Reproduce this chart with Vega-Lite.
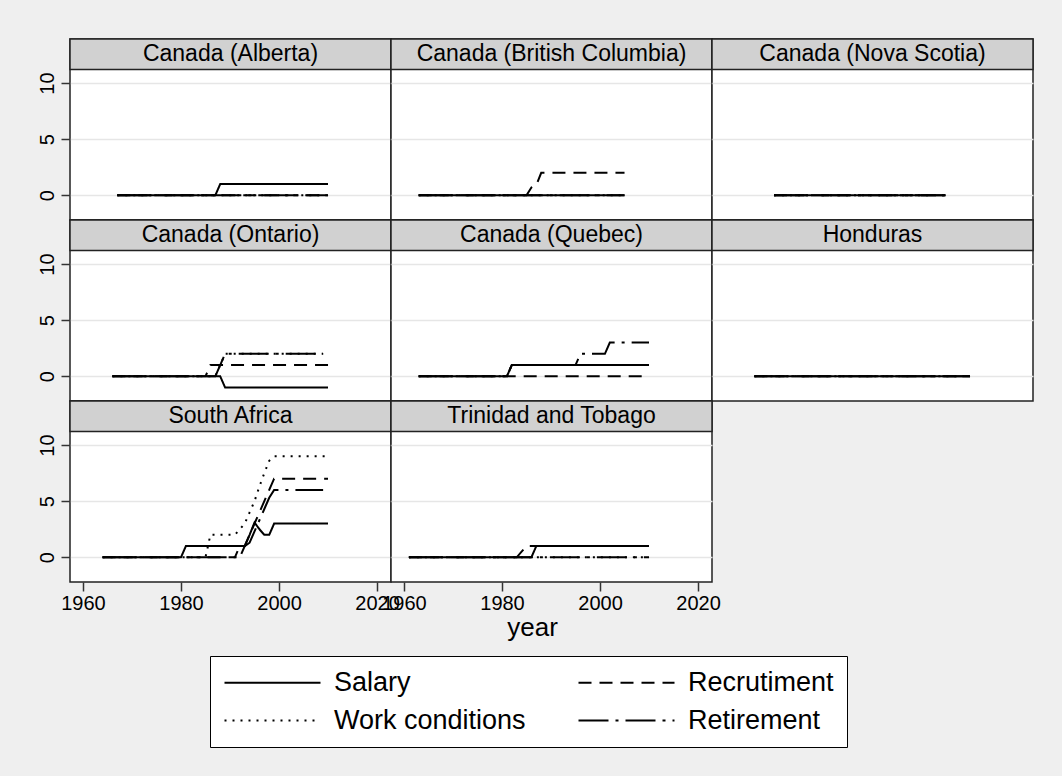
{
  "$schema": "https://vega.github.io/schema/vega-lite/v6.json",
  "background": "#efefef",
  "padding": {"left": 36, "top": 37, "right": 29, "bottom": 30},
  "datasets": {
    "panels": [
      {"c": "Canada (Alberta)"}, {"c": "Canada (British Columbia)"}, {"c": "Canada (Nova Scotia)"},
      {"c": "Canada (Ontario)"}, {"c": "Canada (Quebec)"}, {"c": "Honduras"},
      {"c": "South Africa"}, {"c": "Trinidad and Tobago"}
    ],
    "lines": [
      {"c": "Canada (Alberta)", "s": "Salary", "year": 1967, "v": 0},
      {"c": "Canada (Alberta)", "s": "Salary", "year": 1987, "v": 0},
      {"c": "Canada (Alberta)", "s": "Salary", "year": 1988, "v": 1},
      {"c": "Canada (Alberta)", "s": "Salary", "year": 2010, "v": 1},
      {"c": "Canada (Alberta)", "s": "Recrutiment", "year": 1967, "v": 0},
      {"c": "Canada (Alberta)", "s": "Recrutiment", "year": 2010, "v": 0},
      {"c": "Canada (Alberta)", "s": "Work conditions", "year": 1967, "v": 0},
      {"c": "Canada (Alberta)", "s": "Work conditions", "year": 2010, "v": 0},
      {"c": "Canada (Alberta)", "s": "Retirement", "year": 1967, "v": 0},
      {"c": "Canada (Alberta)", "s": "Retirement", "year": 2010, "v": 0},

      {"c": "Canada (British Columbia)", "s": "Salary", "year": 1963, "v": 0},
      {"c": "Canada (British Columbia)", "s": "Salary", "year": 2005, "v": 0},
      {"c": "Canada (British Columbia)", "s": "Recrutiment", "year": 1963, "v": 0},
      {"c": "Canada (British Columbia)", "s": "Recrutiment", "year": 1985, "v": 0},
      {"c": "Canada (British Columbia)", "s": "Recrutiment", "year": 1986, "v": 0.7},
      {"c": "Canada (British Columbia)", "s": "Recrutiment", "year": 1987, "v": 0.9},
      {"c": "Canada (British Columbia)", "s": "Recrutiment", "year": 1988, "v": 2},
      {"c": "Canada (British Columbia)", "s": "Recrutiment", "year": 2005, "v": 2},
      {"c": "Canada (British Columbia)", "s": "Work conditions", "year": 1963, "v": 0},
      {"c": "Canada (British Columbia)", "s": "Work conditions", "year": 2005, "v": 0},
      {"c": "Canada (British Columbia)", "s": "Retirement", "year": 1963, "v": 0},
      {"c": "Canada (British Columbia)", "s": "Retirement", "year": 2005, "v": 0},

      {"c": "Canada (Nova Scotia)", "s": "Salary", "year": 1970, "v": 0},
      {"c": "Canada (Nova Scotia)", "s": "Salary", "year": 2005, "v": 0},
      {"c": "Canada (Nova Scotia)", "s": "Recrutiment", "year": 1970, "v": 0},
      {"c": "Canada (Nova Scotia)", "s": "Recrutiment", "year": 2005, "v": 0},
      {"c": "Canada (Nova Scotia)", "s": "Work conditions", "year": 1970, "v": 0},
      {"c": "Canada (Nova Scotia)", "s": "Work conditions", "year": 2005, "v": 0},
      {"c": "Canada (Nova Scotia)", "s": "Retirement", "year": 1970, "v": 0},
      {"c": "Canada (Nova Scotia)", "s": "Retirement", "year": 2005, "v": 0},

      {"c": "Canada (Ontario)", "s": "Salary", "year": 1966, "v": 0},
      {"c": "Canada (Ontario)", "s": "Salary", "year": 1988, "v": 0},
      {"c": "Canada (Ontario)", "s": "Salary", "year": 1989, "v": -1},
      {"c": "Canada (Ontario)", "s": "Salary", "year": 2010, "v": -1},
      {"c": "Canada (Ontario)", "s": "Recrutiment", "year": 1966, "v": 0},
      {"c": "Canada (Ontario)", "s": "Recrutiment", "year": 1985, "v": 0},
      {"c": "Canada (Ontario)", "s": "Recrutiment", "year": 1986, "v": 1},
      {"c": "Canada (Ontario)", "s": "Recrutiment", "year": 2010, "v": 1},
      {"c": "Canada (Ontario)", "s": "Work conditions", "year": 1966, "v": 0},
      {"c": "Canada (Ontario)", "s": "Work conditions", "year": 1987, "v": 0},
      {"c": "Canada (Ontario)", "s": "Work conditions", "year": 1988, "v": 1},
      {"c": "Canada (Ontario)", "s": "Work conditions", "year": 1989, "v": 2},
      {"c": "Canada (Ontario)", "s": "Work conditions", "year": 2009, "v": 2},
      {"c": "Canada (Ontario)", "s": "Retirement", "year": 1966, "v": 0},
      {"c": "Canada (Ontario)", "s": "Retirement", "year": 1987, "v": 0},
      {"c": "Canada (Ontario)", "s": "Retirement", "year": 1988, "v": 1},
      {"c": "Canada (Ontario)", "s": "Retirement", "year": 1989, "v": 2},
      {"c": "Canada (Ontario)", "s": "Retirement", "year": 2009, "v": 2},

      {"c": "Canada (Quebec)", "s": "Salary", "year": 1963, "v": 0},
      {"c": "Canada (Quebec)", "s": "Salary", "year": 1981, "v": 0},
      {"c": "Canada (Quebec)", "s": "Salary", "year": 1982, "v": 1},
      {"c": "Canada (Quebec)", "s": "Salary", "year": 2010, "v": 1},
      {"c": "Canada (Quebec)", "s": "Recrutiment", "year": 1963, "v": 0},
      {"c": "Canada (Quebec)", "s": "Recrutiment", "year": 2010, "v": 0},
      {"c": "Canada (Quebec)", "s": "Work conditions", "year": 1963, "v": 0},
      {"c": "Canada (Quebec)", "s": "Work conditions", "year": 1981, "v": 0},
      {"c": "Canada (Quebec)", "s": "Work conditions", "year": 1982, "v": 1},
      {"c": "Canada (Quebec)", "s": "Work conditions", "year": 2010, "v": 1},
      {"c": "Canada (Quebec)", "s": "Retirement", "year": 1963, "v": 0},
      {"c": "Canada (Quebec)", "s": "Retirement", "year": 1981, "v": 0},
      {"c": "Canada (Quebec)", "s": "Retirement", "year": 1982, "v": 1},
      {"c": "Canada (Quebec)", "s": "Retirement", "year": 1995, "v": 1},
      {"c": "Canada (Quebec)", "s": "Retirement", "year": 1996, "v": 2},
      {"c": "Canada (Quebec)", "s": "Retirement", "year": 2001, "v": 2},
      {"c": "Canada (Quebec)", "s": "Retirement", "year": 2002, "v": 3},
      {"c": "Canada (Quebec)", "s": "Retirement", "year": 2010, "v": 3},

      {"c": "Honduras", "s": "Salary", "year": 1966, "v": 0},
      {"c": "Honduras", "s": "Salary", "year": 2010, "v": 0},
      {"c": "Honduras", "s": "Recrutiment", "year": 1966, "v": 0},
      {"c": "Honduras", "s": "Recrutiment", "year": 2010, "v": 0},
      {"c": "Honduras", "s": "Work conditions", "year": 1966, "v": 0},
      {"c": "Honduras", "s": "Work conditions", "year": 2010, "v": 0},
      {"c": "Honduras", "s": "Retirement", "year": 1966, "v": 0},
      {"c": "Honduras", "s": "Retirement", "year": 2010, "v": 0},

      {"c": "South Africa", "s": "Salary", "year": 1964, "v": 0},
      {"c": "South Africa", "s": "Salary", "year": 1980, "v": 0},
      {"c": "South Africa", "s": "Salary", "year": 1981, "v": 1},
      {"c": "South Africa", "s": "Salary", "year": 1993, "v": 1},
      {"c": "South Africa", "s": "Salary", "year": 1994, "v": 2},
      {"c": "South Africa", "s": "Salary", "year": 1995, "v": 3.1},
      {"c": "South Africa", "s": "Salary", "year": 1996, "v": 2.5},
      {"c": "South Africa", "s": "Salary", "year": 1997, "v": 2},
      {"c": "South Africa", "s": "Salary", "year": 1998, "v": 2},
      {"c": "South Africa", "s": "Salary", "year": 1999, "v": 3},
      {"c": "South Africa", "s": "Salary", "year": 2010, "v": 3},
      {"c": "South Africa", "s": "Recrutiment", "year": 1964, "v": 0},
      {"c": "South Africa", "s": "Recrutiment", "year": 1991, "v": 0},
      {"c": "South Africa", "s": "Recrutiment", "year": 1992, "v": 1},
      {"c": "South Africa", "s": "Recrutiment", "year": 1993, "v": 1},
      {"c": "South Africa", "s": "Recrutiment", "year": 1994, "v": 2},
      {"c": "South Africa", "s": "Recrutiment", "year": 1995, "v": 3},
      {"c": "South Africa", "s": "Recrutiment", "year": 1996, "v": 4},
      {"c": "South Africa", "s": "Recrutiment", "year": 1997, "v": 5},
      {"c": "South Africa", "s": "Recrutiment", "year": 1998, "v": 6},
      {"c": "South Africa", "s": "Recrutiment", "year": 1999, "v": 7},
      {"c": "South Africa", "s": "Recrutiment", "year": 2010, "v": 7},
      {"c": "South Africa", "s": "Work conditions", "year": 1964, "v": 0},
      {"c": "South Africa", "s": "Work conditions", "year": 1985, "v": 0},
      {"c": "South Africa", "s": "Work conditions", "year": 1986, "v": 2},
      {"c": "South Africa", "s": "Work conditions", "year": 1991, "v": 2},
      {"c": "South Africa", "s": "Work conditions", "year": 1992, "v": 2.5},
      {"c": "South Africa", "s": "Work conditions", "year": 1993, "v": 3},
      {"c": "South Africa", "s": "Work conditions", "year": 1994, "v": 4},
      {"c": "South Africa", "s": "Work conditions", "year": 1995, "v": 5},
      {"c": "South Africa", "s": "Work conditions", "year": 1996, "v": 6.3},
      {"c": "South Africa", "s": "Work conditions", "year": 1997, "v": 7.5},
      {"c": "South Africa", "s": "Work conditions", "year": 1998, "v": 8.6},
      {"c": "South Africa", "s": "Work conditions", "year": 1999, "v": 9},
      {"c": "South Africa", "s": "Work conditions", "year": 2010, "v": 9},
      {"c": "South Africa", "s": "Retirement", "year": 1964, "v": 0},
      {"c": "South Africa", "s": "Retirement", "year": 1992, "v": 0},
      {"c": "South Africa", "s": "Retirement", "year": 1993, "v": 1},
      {"c": "South Africa", "s": "Retirement", "year": 1994, "v": 1.3},
      {"c": "South Africa", "s": "Retirement", "year": 1995, "v": 2.3},
      {"c": "South Africa", "s": "Retirement", "year": 1996, "v": 3.3},
      {"c": "South Africa", "s": "Retirement", "year": 1997, "v": 4.3},
      {"c": "South Africa", "s": "Retirement", "year": 1998, "v": 5.3},
      {"c": "South Africa", "s": "Retirement", "year": 1999, "v": 6},
      {"c": "South Africa", "s": "Retirement", "year": 2009, "v": 6},

      {"c": "Trinidad and Tobago", "s": "Salary", "year": 1961, "v": 0},
      {"c": "Trinidad and Tobago", "s": "Salary", "year": 1986, "v": 0},
      {"c": "Trinidad and Tobago", "s": "Salary", "year": 1987, "v": 1},
      {"c": "Trinidad and Tobago", "s": "Salary", "year": 2010, "v": 1},
      {"c": "Trinidad and Tobago", "s": "Recrutiment", "year": 1961, "v": 0},
      {"c": "Trinidad and Tobago", "s": "Recrutiment", "year": 1983, "v": 0},
      {"c": "Trinidad and Tobago", "s": "Recrutiment", "year": 1984, "v": 0.5},
      {"c": "Trinidad and Tobago", "s": "Recrutiment", "year": 1985, "v": 1},
      {"c": "Trinidad and Tobago", "s": "Recrutiment", "year": 2010, "v": 1},
      {"c": "Trinidad and Tobago", "s": "Work conditions", "year": 1961, "v": 0},
      {"c": "Trinidad and Tobago", "s": "Work conditions", "year": 2010, "v": 0},
      {"c": "Trinidad and Tobago", "s": "Retirement", "year": 1961, "v": 0},
      {"c": "Trinidad and Tobago", "s": "Retirement", "year": 2010, "v": 0}
    ]
  },
  "columns": 3,
  "spacing": 0,
  "bounds": "flush",
  "concat": [
    {
      "width": 321, "height": 181,
      "layer": [
        {"data": {"name": "panels"}, "transform": [{"filter": {"field": "c", "equal": "Canada (Alberta)"}}],
         "mark": {"type": "rect", "fill": "#d1d1d1", "stroke": "#222", "strokeWidth": 1.5},
         "encoding": {"y": {"datum": 11.2}, "y2": {"datum": 13.92}}},
        {"data": {"name": "panels"}, "transform": [{"filter": {"field": "c", "equal": "Canada (Alberta)"}}],
         "mark": {"type": "text", "fontSize": 23, "font": "Liberation Sans", "color": "#000", "baseline": "middle"},
         "encoding": {"text": {"field": "c"}, "y": {"datum": 12.56}}},
        {"data": {"name": "lines"}, "transform": [{"filter": {"field": "c", "equal": "Canada (Alberta)"}}],
         "mark": {"type": "line", "strokeWidth": 2, "color": "#000"},
         "encoding": {
           "x": {"field": "year", "type": "quantitative", "scale": {"domain": [1957.35, 2022.85], "nice": false, "zero": false}, "axis": null},
           "y": {"field": "v", "type": "quantitative", "scale": {"domain": [-2.2, 13.92], "nice": false, "zero": false}, "axis": {"values": [0, 5, 10], "title": null}},
           "strokeDash": {"field": "s", "type": "nominal", "title": null,
             "scale": {"domain": ["Salary", "Recrutiment", "Work conditions", "Retirement"], "range": [[1, 0], [13, 8], [2, 6], [30, 7, 3, 7]]},
             "legend": {"orient": "none", "direction": "horizontal", "legendX": 140, "legendY": 617, "columns": 2, "symbolType": "M-1,0H7", "symbolSize": 576, "symbolStrokeWidth": 2, "symbolStrokeColor": "#000", "symbolFillColor": "transparent", "labelFont": "Liberation Sans", "labelFontSize": 27, "labelColor": "#000", "labelOffset": 84, "columnPadding": 48, "rowPadding": 10, "padding": 13, "strokeColor": "#000", "fillColor": "#fff", "labelLimit": 400}}
         }}
      ]
    },
    {
      "width": 321, "height": 181,
      "layer": [
        {"data": {"name": "panels"}, "transform": [{"filter": {"field": "c", "equal": "Canada (British Columbia)"}}],
         "mark": {"type": "rect", "fill": "#d1d1d1", "stroke": "#222", "strokeWidth": 1.5},
         "encoding": {"y": {"datum": 11.2}, "y2": {"datum": 13.92}}},
        {"data": {"name": "panels"}, "transform": [{"filter": {"field": "c", "equal": "Canada (British Columbia)"}}],
         "mark": {"type": "text", "fontSize": 23, "font": "Liberation Sans", "color": "#000", "baseline": "middle"},
         "encoding": {"text": {"field": "c"}, "y": {"datum": 12.56}}},
        {"data": {"name": "lines"}, "transform": [{"filter": {"field": "c", "equal": "Canada (British Columbia)"}}],
         "mark": {"type": "line", "strokeWidth": 2, "color": "#000"},
         "encoding": {
           "x": {"field": "year", "type": "quantitative", "scale": {"domain": [1957.35, 2022.85], "nice": false, "zero": false}, "axis": null},
           "y": {"field": "v", "type": "quantitative", "scale": {"domain": [-2.2, 13.92], "nice": false, "zero": false}, "axis": {"values": [0, 5, 10], "title": null, "labels": false, "ticks": false}},
           "strokeDash": {"field": "s", "type": "nominal", "title": null,
             "scale": {"domain": ["Salary", "Recrutiment", "Work conditions", "Retirement"], "range": [[1, 0], [13, 8], [2, 6], [30, 7, 3, 7]]}}
         }}
      ]
    },
    {
      "width": 321, "height": 181,
      "layer": [
        {"data": {"name": "panels"}, "transform": [{"filter": {"field": "c", "equal": "Canada (Nova Scotia)"}}],
         "mark": {"type": "rect", "fill": "#d1d1d1", "stroke": "#222", "strokeWidth": 1.5},
         "encoding": {"y": {"datum": 11.2}, "y2": {"datum": 13.92}}},
        {"data": {"name": "panels"}, "transform": [{"filter": {"field": "c", "equal": "Canada (Nova Scotia)"}}],
         "mark": {"type": "text", "fontSize": 23, "font": "Liberation Sans", "color": "#000", "baseline": "middle"},
         "encoding": {"text": {"field": "c"}, "y": {"datum": 12.56}}},
        {"data": {"name": "lines"}, "transform": [{"filter": {"field": "c", "equal": "Canada (Nova Scotia)"}}],
         "mark": {"type": "line", "strokeWidth": 2, "color": "#000"},
         "encoding": {
           "x": {"field": "year", "type": "quantitative", "scale": {"domain": [1957.35, 2022.85], "nice": false, "zero": false}, "axis": null},
           "y": {"field": "v", "type": "quantitative", "scale": {"domain": [-2.2, 13.92], "nice": false, "zero": false}, "axis": {"values": [0, 5, 10], "title": null, "labels": false, "ticks": false}},
           "strokeDash": {"field": "s", "type": "nominal", "title": null,
             "scale": {"domain": ["Salary", "Recrutiment", "Work conditions", "Retirement"], "range": [[1, 0], [13, 8], [2, 6], [30, 7, 3, 7]]}}
         }}
      ]
    },
    {
      "width": 321, "height": 181,
      "layer": [
        {"data": {"name": "panels"}, "transform": [{"filter": {"field": "c", "equal": "Canada (Ontario)"}}],
         "mark": {"type": "rect", "fill": "#d1d1d1", "stroke": "#222", "strokeWidth": 1.5},
         "encoding": {"y": {"datum": 11.2}, "y2": {"datum": 13.92}}},
        {"data": {"name": "panels"}, "transform": [{"filter": {"field": "c", "equal": "Canada (Ontario)"}}],
         "mark": {"type": "text", "fontSize": 23, "font": "Liberation Sans", "color": "#000", "baseline": "middle"},
         "encoding": {"text": {"field": "c"}, "y": {"datum": 12.56}}},
        {"data": {"name": "lines"}, "transform": [{"filter": {"field": "c", "equal": "Canada (Ontario)"}}],
         "mark": {"type": "line", "strokeWidth": 2, "color": "#000"},
         "encoding": {
           "x": {"field": "year", "type": "quantitative", "scale": {"domain": [1957.35, 2022.85], "nice": false, "zero": false}, "axis": null},
           "y": {"field": "v", "type": "quantitative", "scale": {"domain": [-2.2, 13.92], "nice": false, "zero": false}, "axis": {"values": [0, 5, 10], "title": null}},
           "strokeDash": {"field": "s", "type": "nominal", "title": null,
             "scale": {"domain": ["Salary", "Recrutiment", "Work conditions", "Retirement"], "range": [[1, 0], [13, 8], [2, 6], [30, 7, 3, 7]]}}
         }}
      ]
    },
    {
      "width": 321, "height": 181,
      "layer": [
        {"data": {"name": "panels"}, "transform": [{"filter": {"field": "c", "equal": "Canada (Quebec)"}}],
         "mark": {"type": "rect", "fill": "#d1d1d1", "stroke": "#222", "strokeWidth": 1.5},
         "encoding": {"y": {"datum": 11.2}, "y2": {"datum": 13.92}}},
        {"data": {"name": "panels"}, "transform": [{"filter": {"field": "c", "equal": "Canada (Quebec)"}}],
         "mark": {"type": "text", "fontSize": 23, "font": "Liberation Sans", "color": "#000", "baseline": "middle"},
         "encoding": {"text": {"field": "c"}, "y": {"datum": 12.56}}},
        {"data": {"name": "lines"}, "transform": [{"filter": {"field": "c", "equal": "Canada (Quebec)"}}],
         "mark": {"type": "line", "strokeWidth": 2, "color": "#000"},
         "encoding": {
           "x": {"field": "year", "type": "quantitative", "scale": {"domain": [1957.35, 2022.85], "nice": false, "zero": false}, "axis": null},
           "y": {"field": "v", "type": "quantitative", "scale": {"domain": [-2.2, 13.92], "nice": false, "zero": false}, "axis": {"values": [0, 5, 10], "title": null, "labels": false, "ticks": false}},
           "strokeDash": {"field": "s", "type": "nominal", "title": null,
             "scale": {"domain": ["Salary", "Recrutiment", "Work conditions", "Retirement"], "range": [[1, 0], [13, 8], [2, 6], [30, 7, 3, 7]]}}
         }}
      ]
    },
    {
      "width": 321, "height": 181,
      "layer": [
        {"data": {"name": "panels"}, "transform": [{"filter": {"field": "c", "equal": "Honduras"}}],
         "mark": {"type": "rect", "fill": "#d1d1d1", "stroke": "#222", "strokeWidth": 1.5},
         "encoding": {"y": {"datum": 11.2}, "y2": {"datum": 13.92}}},
        {"data": {"name": "panels"}, "transform": [{"filter": {"field": "c", "equal": "Honduras"}}],
         "mark": {"type": "text", "fontSize": 23, "font": "Liberation Sans", "color": "#000", "baseline": "middle"},
         "encoding": {"text": {"field": "c"}, "y": {"datum": 12.56}}},
        {"data": {"name": "lines"}, "transform": [{"filter": {"field": "c", "equal": "Honduras"}}],
         "mark": {"type": "line", "strokeWidth": 2, "color": "#000"},
         "encoding": {
           "x": {"field": "year", "type": "quantitative", "scale": {"domain": [1957.35, 2022.85], "nice": false, "zero": false}, "axis": null},
           "y": {"field": "v", "type": "quantitative", "scale": {"domain": [-2.2, 13.92], "nice": false, "zero": false}, "axis": {"values": [0, 5, 10], "title": null, "labels": false, "ticks": false}},
           "strokeDash": {"field": "s", "type": "nominal", "title": null,
             "scale": {"domain": ["Salary", "Recrutiment", "Work conditions", "Retirement"], "range": [[1, 0], [13, 8], [2, 6], [30, 7, 3, 7]]}}
         }}
      ]
    },
    {
      "width": 321, "height": 181,
      "layer": [
        {"data": {"name": "panels"}, "transform": [{"filter": {"field": "c", "equal": "South Africa"}}],
         "mark": {"type": "rect", "fill": "#d1d1d1", "stroke": "#222", "strokeWidth": 1.5},
         "encoding": {"y": {"datum": 11.2}, "y2": {"datum": 13.92}}},
        {"data": {"name": "panels"}, "transform": [{"filter": {"field": "c", "equal": "South Africa"}}],
         "mark": {"type": "text", "fontSize": 23, "font": "Liberation Sans", "color": "#000", "baseline": "middle"},
         "encoding": {"text": {"field": "c"}, "y": {"datum": 12.56}}},
        {"data": {"name": "lines"}, "transform": [{"filter": {"field": "c", "equal": "South Africa"}}],
         "mark": {"type": "line", "strokeWidth": 2, "color": "#000"},
         "encoding": {
           "x": {"field": "year", "type": "quantitative", "scale": {"domain": [1957.35, 2022.85], "nice": false, "zero": false}, "axis": {"values": [1960, 1980, 2000, 2020], "format": "d", "title": null}},
           "y": {"field": "v", "type": "quantitative", "scale": {"domain": [-2.2, 13.92], "nice": false, "zero": false}, "axis": {"values": [0, 5, 10], "title": null}},
           "strokeDash": {"field": "s", "type": "nominal", "title": null,
             "scale": {"domain": ["Salary", "Recrutiment", "Work conditions", "Retirement"], "range": [[1, 0], [13, 8], [2, 6], [30, 7, 3, 7]]}}
         }}
      ]
    },
    {
      "width": 321, "height": 181,
      "layer": [
        {"data": {"name": "panels"}, "transform": [{"filter": {"field": "c", "equal": "Trinidad and Tobago"}}],
         "mark": {"type": "rect", "fill": "#d1d1d1", "stroke": "#222", "strokeWidth": 1.5},
         "encoding": {"y": {"datum": 11.2}, "y2": {"datum": 13.92}}},
        {"data": {"name": "panels"}, "transform": [{"filter": {"field": "c", "equal": "Trinidad and Tobago"}}],
         "mark": {"type": "text", "fontSize": 23, "font": "Liberation Sans", "color": "#000", "baseline": "middle"},
         "encoding": {"text": {"field": "c"}, "y": {"datum": 12.56}}},
        {"data": {"name": "lines"}, "transform": [{"filter": {"field": "c", "equal": "Trinidad and Tobago"}}],
         "mark": {"type": "line", "strokeWidth": 2, "color": "#000"},
         "encoding": {
           "x": {"field": "year", "type": "quantitative", "scale": {"domain": [1957.35, 2022.85], "nice": false, "zero": false}, "axis": {"values": [1960, 1980, 2000, 2020], "format": "d", "title": "year", "titleX": 141, "titleY": 53, "titleAlign": "center", "titleBaseline": "alphabetic"}},
           "y": {"field": "v", "type": "quantitative", "scale": {"domain": [-2.2, 13.92], "nice": false, "zero": false}, "axis": {"values": [0, 5, 10], "title": null, "labels": false, "ticks": false}},
           "strokeDash": {"field": "s", "type": "nominal", "title": null,
             "scale": {"domain": ["Salary", "Recrutiment", "Work conditions", "Retirement"], "range": [[1, 0], [13, 8], [2, 6], [30, 7, 3, 7]]}}
         }}
      ]
    }
  ],
  "config": {
    "font": "Liberation Sans",
    "view": {"fill": "#ffffff", "stroke": "#222", "strokeWidth": 1.5},
    "axis": {"labelFont": "Liberation Sans", "labelFontSize": 20, "labelColor": "#000", "tickColor": "#333", "tickWidth": 1.5, "tickSize": 9, "domain": false, "gridColor": "#e6e6e6", "gridWidth": 1.5, "labelFlush": false, "labelOverlap": false, "titleFont": "Liberation Sans", "titleFontSize": 26, "titleFontWeight": "normal", "titleColor": "#000"},
    "axisX": {"grid": false, "labelPadding": 2},
    "axisY": {"grid": true, "labelAngle": -90, "labelAlign": "center", "labelBaseline": "alphabetic", "labelPadding": 8}
  }
}
